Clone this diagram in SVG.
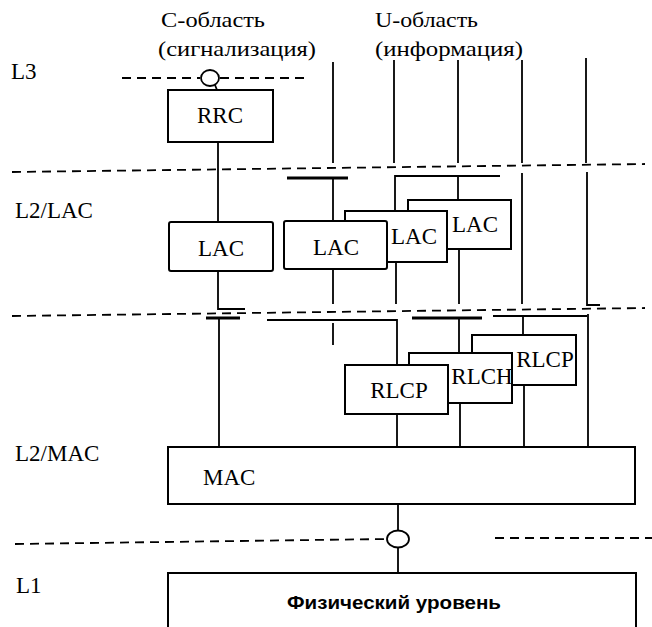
<svg xmlns="http://www.w3.org/2000/svg" width="652" height="627" viewBox="0 0 652 627">
<style>
  .box { fill: #fff; stroke: #000; stroke-width: 2; }
  .ln { fill: none; stroke: #000; stroke-width: 1.8; }
  .bar { fill: none; stroke: #000; stroke-width: 3; }
  .dash { fill: none; stroke: #000; stroke-width: 1.8; stroke-dasharray: 9 6; }
  .lbl { font-family: "Liberation Serif", "Times New Roman", serif; font-size: 23px; fill: #000; }
  .blbl { font-family: "Liberation Serif", "Times New Roman", serif; font-size: 23px; fill: #000; text-anchor: middle; }
  .phys { font-family: "Liberation Sans", Arial, sans-serif; font-size: 19px; font-weight: bold; fill: #000; }
</style>
<rect width="652" height="627" fill="#fff"/>

<g id="labels">
  <text class="lbl" x="161" y="27" textLength="104" lengthAdjust="spacingAndGlyphs" style="font-size:21px">C-область</text>
  <text class="lbl" x="158" y="56" textLength="158" lengthAdjust="spacingAndGlyphs" style="font-size:21px">(сигнализация)</text>
  <text class="lbl" x="375" y="27" textLength="103" lengthAdjust="spacingAndGlyphs" style="font-size:21px">U-область</text>
  <text class="lbl" x="375" y="56" textLength="148" lengthAdjust="spacingAndGlyphs" style="font-size:21px">(информация)</text>
  <text class="lbl" x="11" y="79">L3</text>
  <text class="lbl" x="15" y="218">L2/LAC</text>
  <text class="lbl" x="15" y="461">L2/MAC</text>
  <text class="lbl" x="16" y="593">L1</text>
</g>

<g id="connectors">
  <!-- layer boundaries -->
  <path class="dash" d="M122 78 H200"/>
  <path class="dash" d="M220 78 H305"/>
  <path class="dash" d="M12 172 L645 164"/>
  <path class="dash" d="M12 316 L645 308"/>
  <path class="dash" d="M15 544 L387 539"/>
  <path class="dash" d="M495 538 H652"/>
  <!-- SAP L3 -->
  <ellipse cx="210" cy="78" rx="9" ry="8" fill="#fff" stroke="#000" stroke-width="1.8"/>
  <path class="ln" d="M215 85 L217 90"/>
  <!-- C-plane -->
  <path class="ln" d="M218 142 V222"/>
  <path class="ln" d="M218 271 V309 H245"/>
  <path class="bar" d="M206 318 H240"/>
  <path class="ln" d="M219 318 V447"/>
  <!-- U-plane upper lines -->
  <path class="ln" d="M333 62 V163"/>
  <path class="ln" d="M394 60 V163"/>
  <path class="ln" d="M458 60 V163"/>
  <path class="ln" d="M522 60 V163"/>
  <path class="ln" d="M522 173 V304"/>
  <path class="ln" d="M586 58 V163"/>
  <path class="ln" d="M587 172 V305 H600"/>
  <!-- SAPs to LAC -->
  <path class="bar" d="M287 178 H348"/>
  <path class="ln" d="M333 178 V221"/>
  <path class="ln" d="M395 211 V176 H500"/>
  <path class="ln" d="M458 176 V200"/>
  <!-- LAC down -->
  <path class="ln" d="M333 269 V304"/>
  <path class="ln" d="M396 262 V304"/>
  <path class="ln" d="M459 249 V304"/>
  <!-- SAPs to RLC -->
  <path class="ln" d="M267 320 H397 V365"/>
  <path class="ln" d="M333 323 V345"/>
  <path class="bar" d="M412 318 H482"/>
  <path class="ln" d="M459 318 V353"/>
  <path class="ln" d="M493 316 H587"/>
  <path class="ln" d="M523 316 V335"/>
  <path class="ln" d="M588 314 V446"/>
  <!-- RLC down to MAC -->
  <path class="ln" d="M397 414 V446"/>
  <path class="ln" d="M460 403 V446"/>
  <path class="ln" d="M524 385 V446"/>
  <!-- MAC to PHY -->
  <path class="ln" d="M398 504 V531"/>
  <ellipse cx="398" cy="539" rx="11" ry="8.5" fill="#fff" stroke="#000" stroke-width="1.8"/>
  <path class="ln" d="M398 547.5 V573"/>
</g>

<g id="rrc">
  <rect class="box" x="168" y="90" width="105" height="52"/>
  <text class="blbl" x="220" y="123">RRC</text>
</g>
<g id="lac-c">
  <rect class="box" x="169" y="222" width="104" height="49" rx="2"/>
  <text class="blbl" x="221" y="256">LAC</text>
</g>
<g id="lac-u3">
  <rect class="box" x="408" y="200" width="103" height="49"/>
  <text class="blbl" x="475" y="232">LAC</text>
</g>
<g id="lac-u2">
  <rect class="box" x="345" y="211" width="102" height="51"/>
  <text class="blbl" x="414" y="244">LAC</text>
</g>
<g id="lac-u1">
  <rect class="box" x="284" y="221" width="103" height="48" rx="2"/>
  <text class="blbl" x="336" y="255">LAC</text>
</g>
<g id="rlcp3">
  <rect class="box" x="472" y="335" width="104" height="50"/>
  <text class="blbl" x="545" y="367">RLCP</text>
</g>
<g id="rlch">
  <rect class="box" x="409" y="353" width="103" height="50"/>
  <text class="blbl" x="482" y="384">RLCH</text>
</g>
<g id="rlcp1">
  <rect class="box" x="345" y="365" width="103" height="49"/>
  <text class="blbl" x="399" y="398">RLCP</text>
</g>
<g id="mac">
  <rect class="box" x="168" y="447" width="467" height="57"/>
  <text class="lbl" x="203" y="485">MAC</text>
</g>
<g id="phy">
  <rect class="box" x="168" y="573" width="468" height="70"/>
  <text class="phys" x="287" y="609" textLength="214" lengthAdjust="spacingAndGlyphs">Физический уровень</text>
</g>
</svg>
